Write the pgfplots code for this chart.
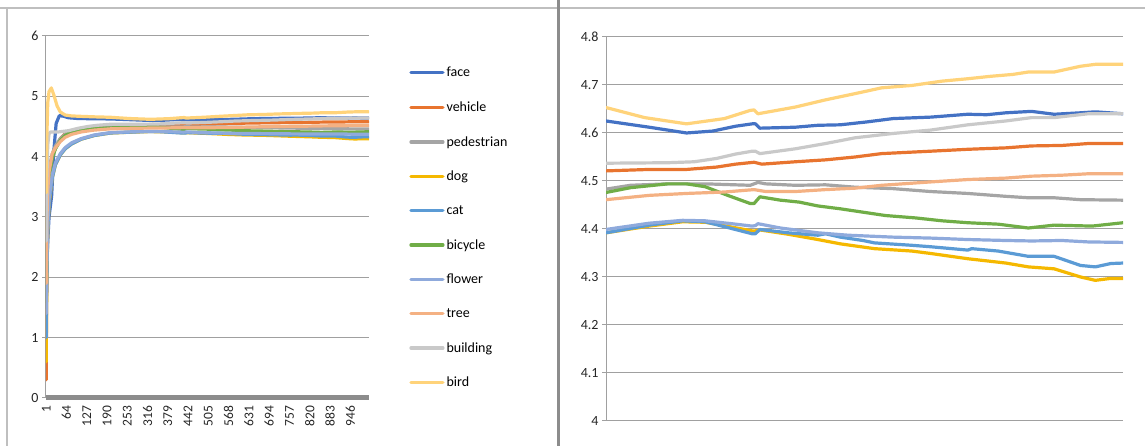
\documentclass[border=0pt]{standalone}
\usepackage{fontspec}
\setmainfont{Carlito}
\usepackage{pgfplots}
\pgfplotsset{compat=1.18}
\definecolor{cface}{HTML}{4472C4}
\definecolor{cvehicle}{HTML}{E8742F}
\definecolor{cped}{HTML}{A5A5A5}
\definecolor{cdog}{HTML}{F5B800}
\definecolor{ccat}{HTML}{5B9BD5}
\definecolor{cbike}{HTML}{70AD47}
\definecolor{cflower}{HTML}{8FAADC}
\definecolor{ctree}{HTML}{F4B183}
\definecolor{cbuild}{HTML}{C9C9C9}
\definecolor{cbird}{HTML}{FFD37A}
\definecolor{cgrid}{HTML}{A0A0A0}
\definecolor{cframe}{HTML}{BFBFBF}

\pgfplotstableread{
x y
1 1.5
5 2.5
10 3.0
18 3.35
25 4.1
32 4.55
42 4.68
55 4.67
70 4.645
100 4.632
150 4.628
200 4.625
267 4.612
325 4.600
366 4.604
401 4.614
427 4.619
432 4.619
439 4.610
494 4.612
529 4.616
564 4.617
605 4.623
646 4.630
704 4.633
762 4.639
791 4.638
821 4.642
861 4.645
896 4.639
937 4.642
960 4.644
1003 4.640
}\face
\pgfplotstableread{
x y
1 0.3
3 2.2
6 3.2
10 3.7
20 4.0
30 4.15
45 4.3
60 4.38
80 4.43
110 4.47
150 4.5
200 4.521
267 4.524
325 4.524
372 4.529
401 4.535
430 4.539
442 4.535
494 4.540
541 4.544
587 4.550
628 4.557
704 4.562
762 4.566
821 4.569
861 4.573
908 4.574
949 4.578
1003 4.578
}\vehicle
\pgfplotstableread{
x y
1 2.2
3 3.0
6 3.5
10 3.8
20 4.05
30 4.18
45 4.3
60 4.37
80 4.42
110 4.45
150 4.47
200 4.483
238 4.491
296 4.494
354 4.494
424 4.491
436 4.497
448 4.494
494 4.491
541 4.492
587 4.487
646 4.484
704 4.478
762 4.474
821 4.468
856 4.465
896 4.465
937 4.461
1003 4.460
}\pedestrian
\pgfplotstableread{
x y
1 0.6
3 1.9
6 2.75
10 3.2
20 3.65
30 3.87
45 4.03
60 4.13
80 4.21
110 4.29
150 4.35
200 4.392
267 4.406
319 4.415
354 4.414
395 4.404
427 4.396
432 4.396
439 4.398
483 4.389
529 4.378
564 4.369
617 4.359
675 4.354
704 4.349
762 4.338
821 4.329
856 4.321
896 4.317
937 4.300
960 4.293
984 4.297
1003 4.297
}\dog
\pgfplotstableread{
x y
1 1.0
3 2.0
6 2.8
10 3.25
20 3.65
30 3.87
45 4.03
60 4.13
80 4.21
110 4.29
150 4.35
200 4.392
267 4.408
319 4.417
354 4.415
395 4.401
427 4.390
432 4.390
439 4.399
483 4.392
529 4.387
541 4.390
564 4.383
599 4.376
617 4.371
675 4.366
704 4.363
762 4.356
768 4.359
809 4.354
856 4.343
896 4.343
937 4.324
960 4.321
984 4.328
1003 4.329
}\cat
\pgfplotstableread{
x y
1 1.6
3 2.7
6 3.3
10 3.65
20 3.98
30 4.13
45 4.27
60 4.35
80 4.41
110 4.45
150 4.47
200 4.476
238 4.486
296 4.494
325 4.494
354 4.488
389 4.470
424 4.453
430 4.453
439 4.467
471 4.460
500 4.456
529 4.448
564 4.442
599 4.435
634 4.428
681 4.423
722 4.417
762 4.413
809 4.410
856 4.402
896 4.408
955 4.406
1003 4.413
}\bicycle
\pgfplotstableread{
x y
1 1.4
3 2.2
6 2.9
10 3.3
20 3.7
30 3.9
45 4.05
60 4.15
80 4.23
110 4.3
150 4.36
200 4.399
267 4.412
319 4.418
354 4.417
395 4.411
427 4.406
432 4.407
436 4.411
471 4.402
529 4.392
576 4.387
646 4.383
704 4.381
762 4.378
821 4.376
861 4.375
908 4.376
949 4.373
1003 4.372
}\flower
\pgfplotstableread{
x y
1 1.9
3 2.9
6 3.45
10 3.75
20 4.05
30 4.15
45 4.25
60 4.32
80 4.37
110 4.41
150 4.44
200 4.461
267 4.470
325 4.474
384 4.477
430 4.482
448 4.478
494 4.478
541 4.482
587 4.485
628 4.491
704 4.498
762 4.503
821 4.506
861 4.510
908 4.512
949 4.515
1003 4.515
}\tree
\pgfplotstableread{
x y
1 2.6
3 3.6
6 4.2
10 4.38
15 4.41
40 4.41
70 4.43
100 4.47
130 4.5
160 4.52
200 4.537
296 4.538
337 4.540
372 4.547
401 4.556
427 4.562
432 4.562
439 4.557
494 4.567
541 4.578
587 4.590
646 4.599
704 4.606
762 4.617
821 4.625
861 4.632
896 4.632
949 4.640
1003 4.640
}\building
\pgfplotstableread{
x y
1 3.4
3 4.3
6 4.9
10 5.08
17 5.14
25 5.02
35 4.84
45 4.74
60 4.69
80 4.675
110 4.668
150 4.66
200 4.653
260 4.632
325 4.619
384 4.630
424 4.647
430 4.648
436 4.640
494 4.654
541 4.669
587 4.682
628 4.694
675 4.699
722 4.708
762 4.713
797 4.718
832 4.722
856 4.727
896 4.727
937 4.739
960 4.743
1003 4.743
}\bird

\pgfplotsset{
  mystyle/.style={
    scale only axis,
    anchor=south west,
    axis x line*=bottom,
    axis y line*=left,
    ymajorgrids,
    grid style={cgrid, line width=1pt},
    y axis line style={cgrid, line width=1pt},
    tick style={cgrid, line width=1pt},
    tick align=outside,
    major tick length=4pt,
    ytick pos=left,
    xtick pos=bottom,
    yticklabel style={font=\fontsize{14}{16}\selectfont, text=black!85},
    xticklabel style={font=\fontsize{13.5}{15}\selectfont, text=black!85},
    /pgf/number format/assume math mode=true,
    every axis plot/.append style={line width=3.2pt, line join=round, line cap=round},
  }
}

\begin{document}
\begin{tikzpicture}
\useasboundingbox (0,0) rectangle (1145pt,446pt);
\draw[cframe, line width=1.2pt] (0,438pt) -- (1145pt,438pt);
\draw[cframe, line width=1.2pt] (7pt,438pt) -- (7pt,0pt);
\draw[black!45, line width=3pt] (558.5pt,446pt) -- (558.5pt,0pt);

\begin{axis}[mystyle,
  at={(46pt,48pt)}, width=323pt, height=362pt,
  xmin=0.5, xmax=1004, ymin=0, ymax=6,
  ytick={0,1,2,3,4,5,6},
  xtick={1,64,127,190,253,316,379,442,505,568,631,694,757,820,883,946},
  xticklabel style={rotate=90, anchor=east},
  x axis line style={black!45, line width=5pt},
  major x tick style={draw=none},
  legend style={at={(1.115,0.925)}, anchor=north west, draw=none, fill=none,
    font=\fontsize{14}{16}\selectfont, row sep=19.4pt,
    /tikz/every even column/.append style={column sep=3pt}},
  legend cell align=left,
  legend image code/.code={\draw[#1, line cap=round] (0pt,0pt) -- (32pt,0pt);},
]
\addplot[cface] table {\face};
\addplot[cvehicle] table {\vehicle};
\addplot[cped] table {\pedestrian};
\addplot[cdog] table {\dog};
\addplot[ccat] table {\cat};
\addplot[cbike] table {\bicycle};
\addplot[cflower] table {\flower};
\addplot[ctree] table {\tree};
\addplot[cbuild] table {\building};
\addplot[cbird] table {\bird};
\legend{face,vehicle,pedestrian,dog,cat,bicycle,flower,tree,building,bird}
\end{axis}

\begin{axis}[mystyle,
  at={(606pt,25pt)}, width=517pt, height=384pt,
  xmin=200, xmax=1003, ymin=4, ymax=4.8,
  ytick={4,4.1,4.2,4.3,4.4,4.5,4.6,4.7,4.8},
  xtick=\empty,
  x axis line style={draw=none},
]
\addplot[cface] table {\face};
\addplot[cvehicle] table {\vehicle};
\addplot[cped] table {\pedestrian};
\addplot[cdog] table {\dog};
\addplot[ccat] table {\cat};
\addplot[cbike] table {\bicycle};
\addplot[cflower] table {\flower};
\addplot[ctree] table {\tree};
\addplot[cbuild] table {\building};
\addplot[cbird] table {\bird};
\end{axis}
\end{tikzpicture}
\end{document}
